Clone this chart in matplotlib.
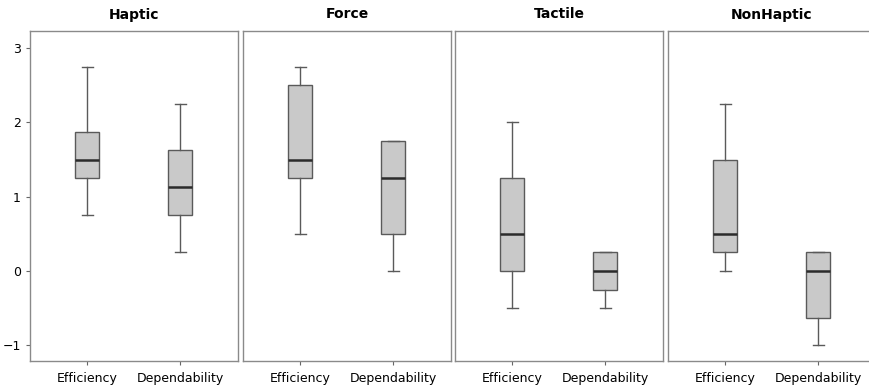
import matplotlib.pyplot as plt

groups = ['Haptic', 'Force', 'Tactile', 'NonHaptic']
categories = ['Efficiency', 'Dependability']

# per group: [Efficiency, Dependability]
whis_low = [[0.75, 0.25], [0.5, 0.0], [-0.5, -0.5], [0.0, -1.0]]
q1 = [[1.25, 0.75], [1.25, 0.5], [0.0, -0.25], [0.25, -0.625]]
median = [[1.5, 1.125], [1.5, 1.25], [0.5, 0.0], [0.5, 0.0]]
q3 = [[1.875, 1.625], [2.5, 1.75], [1.25, 0.25], [1.5, 0.25]]
whis_high = [[2.75, 2.25], [2.75, 1.75], [2.0, 0.25], [2.25, 0.25]]

fig = plt.figure(figsize=(8.7, 3.89), dpi=100)
fig.patch.set_facecolor('white')

lefts = [30, 243, 455, 668]
for g, name in enumerate(groups):
    ax = fig.add_axes([lefts[g] / 870, 28 / 389, 208 / 870, 330 / 389])
    stats = []
    for c, cat in enumerate(categories):
        stats.append({
            'label': cat,
            'whislo': whis_low[g][c],
            'q1': q1[g][c],
            'med': median[g][c],
            'q3': q3[g][c],
            'whishi': whis_high[g][c],
            'fliers': [],
        })
    ax.bxp(stats, positions=[1, 2], widths=0.26, patch_artist=True,
           showfliers=False,
           boxprops=dict(facecolor='#c9c9c9', edgecolor='#5a5a5a', linewidth=1.0),
           medianprops=dict(color='#2b2b2b', linewidth=1.8),
           whiskerprops=dict(color='#5a5a5a', linewidth=1.0),
           capprops=dict(color='#5a5a5a', linewidth=1.0),
           capwidths=0.12)
    ax.set_xlim(0.385, 2.62)
    ax.set_ylim(-1.21, 3.23)
    ax.set_title(name, fontsize=10, fontweight='bold', pad=9)
    for s in ax.spines.values():
        s.set_color('#8a8a8a')
        s.set_linewidth(1.0)
    ax.tick_params(axis='x', length=3, color='#666666', labelsize=9, pad=5)
    if g == 0:
        ax.set_yticks([-1, 0, 1, 2, 3])
        ax.tick_params(axis='y', length=3, color='#666666', labelsize=9)
    else:
        ax.set_yticks([])

fig.savefig('out.png', dpi=100)
